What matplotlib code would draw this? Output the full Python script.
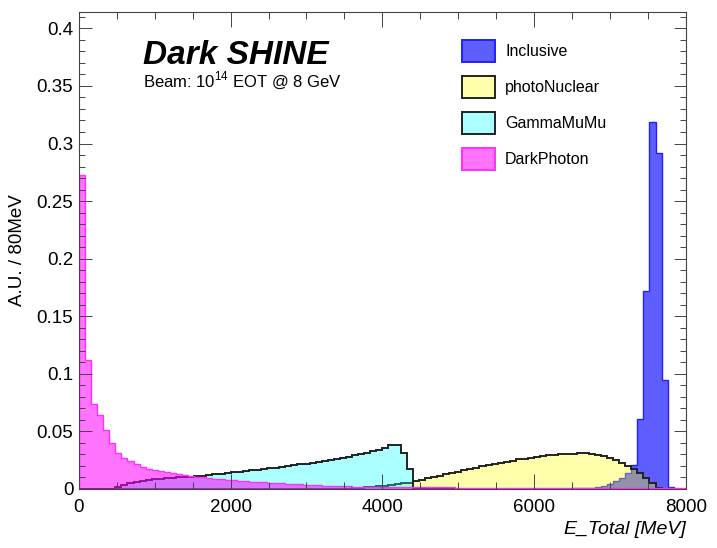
import numpy as np
import matplotlib
matplotlib.use("Agg")
import matplotlib.pyplot as plt
from matplotlib.patches import Patch
from matplotlib.colors import to_rgba
from matplotlib.ticker import MultipleLocator, FuncFormatter

plt.rcParams['font.family'] = ['Liberation Sans', 'DejaVu Sans']
plt.rcParams['mathtext.fontset'] = 'custom'
plt.rcParams['mathtext.rm'] = 'Liberation Sans'

# Histogramas de 100 bines de 80 MeV entre 0 y 8000 MeV
bin_edges = np.linspace(0, 8000, 101)

inclusive = [
    0.0004, 0.0004, 0.0004, 0.0004, 0.0004, 0.0004, 0.0004, 0.0004, 0.0004, 0.0004,
    0.0004, 0.0004, 0.0004, 0.0004, 0.0004, 0.0004, 0.0004, 0.0004, 0.0004, 0.0004,
    0.0004, 0.0004, 0.0004, 0.0004, 0.0004, 0.0004, 0.0004, 0.0004, 0.0004, 0.0004,
    0.0004, 0.0004, 0.0004, 0.0004, 0.0004, 0.0004, 0.0004, 0.0004, 0.0004, 0.0004,
    0.0004, 0.0004, 0.0004, 0.0004, 0.0004, 0.0004, 0.0004, 0.0004, 0.0004, 0.0004,
    0.0004, 0.0004, 0.0004, 0.0004, 0.0004, 0.0004, 0.0004, 0.0004, 0.0004, 0.0004,
    0.0004, 0.0004, 0.0004, 0.0004, 0.0004, 0.0004, 0.0004, 0.0004, 0.0004, 0.0004,
    0.0004, 0.0004, 0.0004, 0.0004, 0.0004, 0.0004, 0.0004, 0.0004, 0.0004, 0.0004,
    0.0004, 0.0005, 0.0006, 0.0008, 0.0010, 0.0015, 0.0025, 0.0040, 0.0065, 0.0095,
    0.0140, 0.0210, 0.0610, 0.1720, 0.3190, 0.2915, 0.0950, 0.0020, 0.0, 0.0,
]

photo_nuclear = [
    0, 0, 0, 0, 0, 0, 0, 0, 0, 0,
    0, 0, 0, 0, 0, 0, 0, 0, 0, 0,
    0, 0, 0, 0, 0, 0, 0, 0, 0, 0,
    0, 0, 0, 0, 0, 0, 0, 0, 0, 0,
    0, 0, 0, 0, 0.0003, 0.0006, 0.0010, 0.0015, 0.0020, 0.0025,
    0.0030, 0.0036, 0.0042, 0.0048, 0.0055, 0.0068, 0.0080, 0.0092, 0.0104, 0.0116,
    0.0127, 0.0138, 0.0150, 0.0162, 0.0174, 0.0186, 0.0197, 0.0208, 0.0218, 0.0228,
    0.0238, 0.0247, 0.0256, 0.0264, 0.0272, 0.0279, 0.0285, 0.0291, 0.0296, 0.0301,
    0.0305, 0.0308, 0.0310, 0.0310, 0.0306, 0.0298, 0.0286, 0.0270, 0.0250, 0.0227,
    0.0200, 0.0170, 0.0135, 0.0095, 0.0050, 0.0008, 0, 0, 0, 0,
]

gamma_mumu = [
    0, 0, 0, 0, 0, 0, 0.0015, 0.0035, 0.0048, 0.0060,
    0.0072, 0.0078, 0.0083, 0.0088, 0.0092, 0.0096, 0.0100, 0.0104, 0.0108, 0.0112,
    0.0117, 0.0122, 0.0127, 0.0133, 0.0138, 0.0144, 0.0150, 0.0155, 0.0161, 0.0167,
    0.0173, 0.0179, 0.0186, 0.0193, 0.0200, 0.0207, 0.0214, 0.0221, 0.0229, 0.0237,
    0.0245, 0.0254, 0.0263, 0.0272, 0.0281, 0.0291, 0.0302, 0.0314, 0.0327, 0.0342,
    0.0360, 0.0382, 0.0385, 0.0310, 0.0175, 0, 0, 0, 0, 0,
    0, 0, 0, 0, 0, 0, 0, 0, 0, 0,
    0, 0, 0, 0, 0, 0, 0, 0, 0, 0,
    0, 0, 0, 0, 0, 0, 0, 0, 0, 0,
    0, 0, 0, 0, 0, 0, 0, 0, 0, 0,
]

dark_photon = [
    0.273, 0.112, 0.074, 0.064, 0.051, 0.040, 0.031, 0.027, 0.024, 0.022,
    0.0190, 0.0175, 0.0165, 0.0155, 0.0145, 0.0135, 0.0127, 0.0120, 0.0113, 0.0107,
    0.0100, 0.0095, 0.0090, 0.0085, 0.0080, 0.0076, 0.0072, 0.0068, 0.0064, 0.0060,
    0.0057, 0.0054, 0.0051, 0.0048, 0.0045, 0.0042, 0.0039, 0.0036, 0.0034, 0.0032,
    0.0030, 0.0028, 0.0026, 0.0024, 0.0022, 0.0021, 0.0020, 0.0019, 0.0018, 0.0017,
    0.0016, 0.0016, 0.0015, 0.0015, 0.0015, 0.0014, 0.0014, 0.0014, 0.0013, 0.0013,
    0.0013, 0.0013, 0.0012, 0.0012, 0.0012, 0.0012, 0.0011, 0.0011, 0.0011, 0.0011,
    0.0011, 0.0010, 0.0010, 0.0010, 0.0010, 0.0010, 0.0010, 0.0009, 0.0009, 0.0009,
    0.0009, 0.0009, 0.0009, 0.0009, 0.0008, 0.0008, 0.0008, 0.0008, 0.0008, 0.0008,
    0.0008, 0.0008, 0.0007, 0.0007, 0.0007, 0.0007, 0.0007, 0.0007, 0.0007, 0.0007,
]

labels = ["Inclusive", "photoNuclear", "GammaMuMu", "DarkPhoton"]
series = [inclusive, photo_nuclear, gamma_mumu, dark_photon]
fill_colors = [to_rgba('#0000ff', 0.63), to_rgba('#ffff00', 0.33),
               to_rgba('#00ffff', 0.33), to_rgba('#ff00ff', 0.55)]
line_colors = ['#2020ff', '#222222', '#222222', '#ff30ff']
line_widths = [1.0, 1.4, 1.4, 1.0]

fig = plt.figure(figsize=(7.17, 5.48), dpi=100)
ax = fig.add_axes([0.110, 0.1077, 0.8466, 0.870])

# Se dibujan en el mismo orden que la leyenda (superpuestos, no apilados)
for vals, fc, lc, lw in zip(series, fill_colors, line_colors, line_widths):
    ax.stairs(vals, bin_edges, fill=True, color=fc, linewidth=0)
    ax.stairs(vals, bin_edges, fill=False, color=lc, linewidth=lw)

ax.set_xlim(0, 8000)
ax.set_ylim(0, 0.414)

ax.xaxis.set_major_locator(MultipleLocator(2000))
ax.xaxis.set_minor_locator(MultipleLocator(500))
ax.yaxis.set_major_locator(MultipleLocator(0.05))
ax.yaxis.set_minor_locator(MultipleLocator(0.01))
ax.yaxis.set_major_formatter(FuncFormatter(lambda v, p: f"{v:g}"))

ax.tick_params(which='both', direction='in', top=True, right=True,
               labelsize=13.5, width=0.7, color='#444444', pad=4)
ax.tick_params(axis='x', which='both', pad=7)
ax.tick_params(axis='x', which='major', length=11)
ax.tick_params(axis='x', which='minor', length=5)
ax.tick_params(axis='y', which='major', length=9)
ax.tick_params(axis='y', which='minor', length=4.5)
for s in ax.spines.values():
    s.set_linewidth(0.8)
    s.set_color('#444444')

fig.text(18 / 717, 1 - 250 / 548, "A.U. / 80MeV", rotation=90,
         ha='center', va='center', fontsize=13.5)
fig.text(686 / 717, 1 - 530 / 548, "E_Total [MeV]", ha='right', va='center',
         fontsize=14, style='italic')

fig.text(143 / 717, 1 - 64 / 548, "Dark SHINE", ha='left', va='baseline',
         fontsize=24, weight='bold', style='italic')
fig.text(143 / 717, 1 - 86 / 548, r"Beam: 10$^{14}$ EOT @ 8 GeV", ha='left',
         va='baseline', fontsize=12)

handles = [Patch(facecolor=fc, edgecolor=lc, linewidth=1.4)
           for fc, lc in zip(fill_colors, line_colors)]
ax.legend(handles, labels, loc='upper left', bbox_to_anchor=(0.631, 0.941),
          frameon=False, fontsize=11.5, handlelength=2.1, handleheight=1.7,
          labelspacing=0.9, handletextpad=0.6, borderpad=0, borderaxespad=0)

fig.savefig("out.png", dpi=100)
